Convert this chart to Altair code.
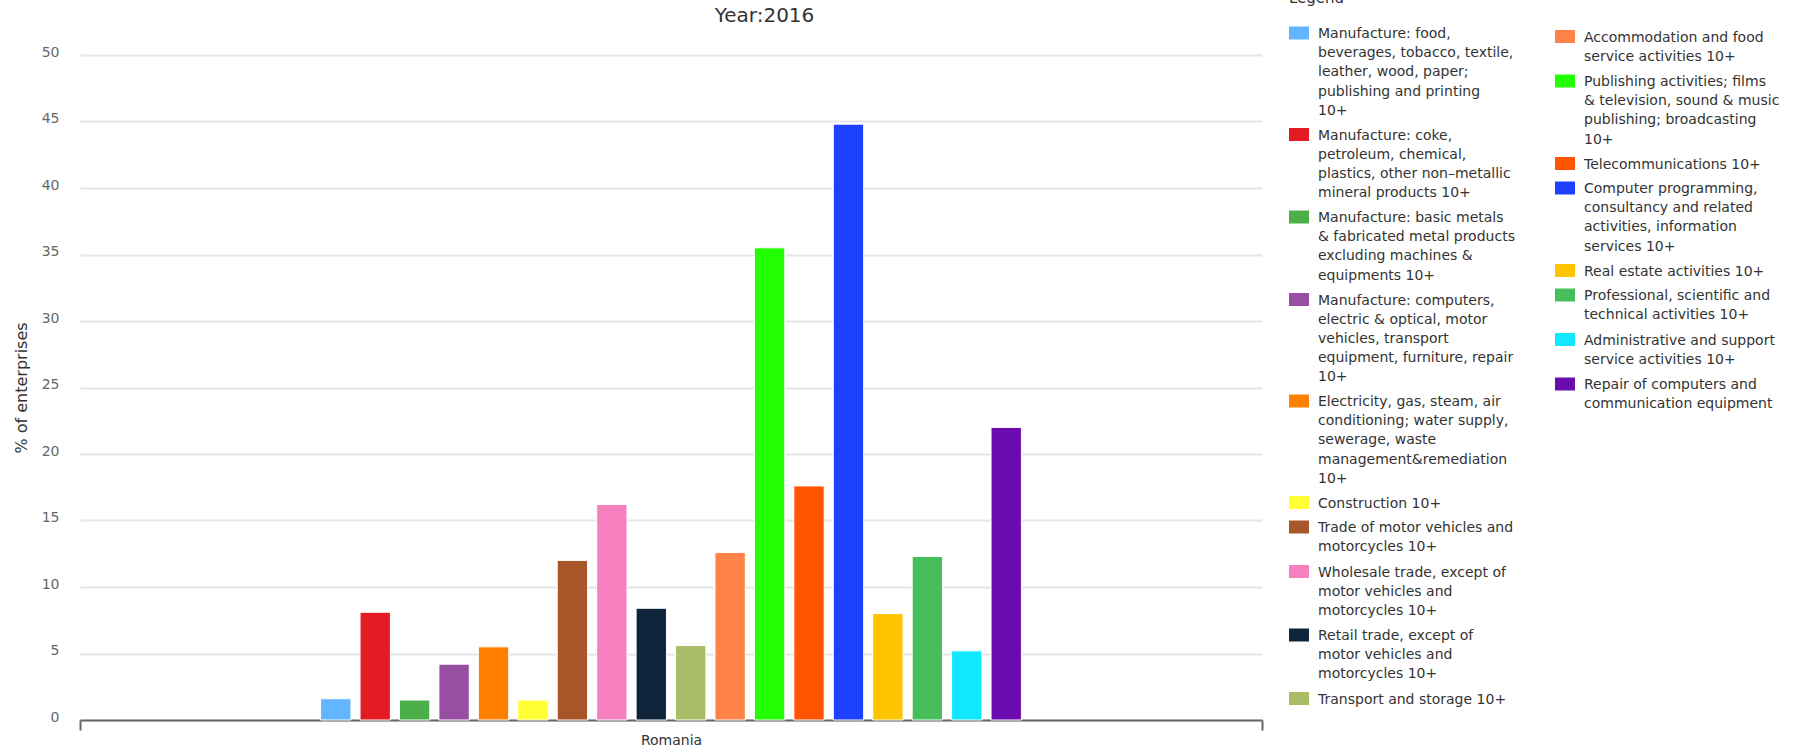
import altair as alt
import pandas as pd

# Share of enterprises (%) by activity, Romania, 2016
chart_title = "Year:2016"
country = "Romania"

categories = [
    "Manufacture: food,\nbeverages, tobacco, textile,\nleather, wood, paper;\npublishing and printing\n10+",
    "Manufacture: coke,\npetroleum, chemical,\nplastics, other non\u2013metallic\nmineral products 10+",
    "Manufacture: basic metals\n& fabricated metal products\nexcluding machines &\nequipments 10+",
    "Manufacture: computers,\nelectric & optical, motor\nvehicles, transport\nequipment, furniture, repair\n10+",
    "Electricity, gas, steam, air\nconditioning; water supply,\nsewerage, waste\nmanagement&remediation\n10+",
    "Construction 10+",
    "Trade of motor vehicles and\nmotorcycles 10+",
    "Wholesale trade, except of\nmotor vehicles and\nmotorcycles 10+",
    "Retail trade, except of\nmotor vehicles and\nmotorcycles 10+",
    "Transport and storage 10+",
    "Accommodation and food\nservice activities 10+",
    "Publishing activities; films\n& television, sound & music\npublishing; broadcasting\n10+",
    "Telecommunications 10+",
    "Computer programming,\nconsultancy and related\nactivities, information\nservices 10+",
    "Real estate activities 10+",
    "Professional, scientific and\ntechnical activities 10+",
    "Administrative and support\nservice activities 10+",
    "Repair of computers and\ncommunication equipment",
]

values = [1.6, 8.1, 1.5, 4.2, 5.5, 1.5, 12.0, 16.2, 8.4, 5.6,
          12.6, 35.5, 17.6, 44.8, 8.0, 12.3, 5.2, 22.0]

colors = [
    "#64b5ff", "#e41b23", "#4daf4a", "#984ea3", "#ff7f00", "#ffff33",
    "#a65628", "#f781bf", "#10253c", "#aabc65", "#ff8348", "#22ff00",
    "#ff5500", "#1e40ff", "#ffc400", "#46be5a", "#10e8ff", "#6a0aaf",
]

# first legend column holds the first ten activities, the second the rest
split_at = 10

df = pd.DataFrame({
    "country": [country] * len(categories),
    "category": categories,
    "value": values,
    "column": [1 if i < split_at else 2 for i in range(len(categories))],
})

FONT = "DejaVu Sans"
wrap = "split(datum.label, '\\n')"
# rectangular swatch, lowered so it lines up with the first text line
swatch = "M-1,-0.05H1V1.25H-1Z"


def legend(**kw):
    return alt.Legend(
        orient="none",
        direction="vertical",
        columns=1,
        padding=0,
        symbolType=swatch,
        symbolSize=400,
        symbolStrokeWidth=0,
        symbolOpacity=1,
        labelFont=FONT,
        labelFontSize=14,
        labelColor="#333333",
        labelBaseline="top",
        labelOffset=9,
        labelLimit=400,
        labelExpr=wrap,
        rowPadding=0.5,
        **kw,
    )


x_enc = alt.X(
    "country:N",
    scale=alt.Scale(paddingInner=0, paddingOuter=0),
    axis=alt.Axis(
        title=None, labelAngle=0, grid=False,
        domainColor="#666666", domainWidth=2,
        tickColor="#666666", tickWidth=2, tickSize=10, tickBand="extent",
        labelFont=FONT, labelFontSize=14, labelColor="#333333", labelPadding=3,
    ),
)
# the group of bars sits in the middle of the single country band
xoff_enc = alt.XOffset(
    "category:N",
    sort=categories,
    scale=alt.Scale(domain=categories, range=[240.6, 941.4],
                    paddingInner=0.23, paddingOuter=0),
)
y_enc = alt.Y(
    "value:Q",
    scale=alt.Scale(domain=[0, 50], nice=False),
    axis=alt.Axis(
        values=list(range(0, 55, 5)),
        grid=True, gridColor="#e6e6e6", gridWidth=2,
        domain=False, ticks=False,
        labelFont=FONT, labelFontSize=14, labelColor="#666666",
        labelPadding=21, labelOffset=-3,
        title="% of enterprises", titleFont=FONT, titleFontSize=16,
        titleColor="#333333", titleFontWeight="normal", titlePadding=12,
    ),
)

base = alt.Chart(df).mark_bar(stroke="white", strokeWidth=1)

left = base.transform_filter(alt.datum.column == 1).encode(
    x=x_enc, xOffset=xoff_enc, y=y_enc,
    color=alt.Color(
        "category:N",
        sort=categories[:split_at],
        scale=alt.Scale(domain=categories[:split_at], range=colors[:split_at]),
        legend=legend(
            legendX=1209, legendY=-64,
            title="Legend", titleFont=FONT, titleFontSize=15,
            titleColor="#333333", titleFontWeight="normal",
            titlePadding=11,
        ),
    ),
)

right = base.transform_filter(alt.datum.column == 2).encode(
    x=x_enc, xOffset=xoff_enc, y=y_enc,
    color=alt.Color(
        "category:N",
        sort=categories[split_at:],
        scale=alt.Scale(domain=categories[split_at:], range=colors[split_at:]),
        title=None,
        legend=legend(legendX=1475, legendY=-34.5),
    ),
)

# chart heading, set above the plot area
heading = alt.Chart(pd.DataFrame({"label": [chart_title]})).mark_text(
    font=FONT, fontSize=20, color="#333333", align="center", baseline="middle"
).encode(text="label:N", x=alt.value(684.5), y=alt.value(-39))

chart = (
    alt.layer(left, right, heading)
    .resolve_scale(color="independent")
    .properties(
        width=1182,
        height=665,
        autosize=alt.AutoSizeParams(type="none"),
        padding={"left": 80, "top": 55, "right": 542, "bottom": 28},
        background="white",
    )
    .configure(style={"guide-label": {"lineHeight": 19.2}})
    .configure_view(stroke=None)
)

chart.save("out.html", embed_options={"renderer": "svg", "actions": False})
